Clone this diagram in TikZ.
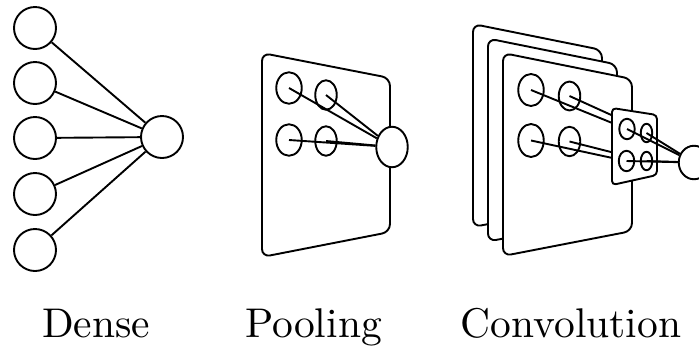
\documentclass[tikz,border=0pt]{standalone}
\usepackage{fontspec}
\setmainfont{lmroman10-regular.otf}
\usetikzlibrary{shapes.geometric}
\tikzset{
  unit/.style={circle,draw,fill=white,minimum size=42pt,inner sep=0pt},
  cell/.style={ellipse,draw,inner sep=0pt},
  sheet/.style={draw,fill=white,rounded corners=8pt},
  kern/.style={draw,fill=white,rounded corners=4pt},
  captxt/.style={anchor=base,inner sep=0pt,font=\fontsize{41.5}{50}\selectfont},
}
\begin{document}
\begin{tikzpicture}[x=1pt,y=-1pt,line width=1.9pt,line join=round]
\useasboundingbox (0,0) rectangle (699,349);

% ---------- Dense ----------
\node[unit] (d1) at (35,28) {};
\node[unit] (d2) at (35,83) {};
\node[unit] (d3) at (35,138) {};
\node[unit] (d4) at (35,194) {};
\node[unit] (d5) at (35,250) {};
\node[unit] (dout) at (162,137) {};
\foreach \i in {1,...,5} \draw (d\i) -- (dout);

% ---------- Pooling ----------
\draw[sheet] (262,53) -- (390,78) -- (390,232) -- (262,257) -- cycle;
\node[cell,minimum width=25.5pt,minimum height=31.5pt] (p1) at (289,88) {};
\node[cell,minimum width=21.5pt,minimum height=29.5pt] (p2) at (326,95) {};
\node[cell,minimum width=25.5pt,minimum height=31.5pt] (p3) at (289,140) {};
\node[cell,minimum width=21.5pt,minimum height=29.5pt] (p4) at (326,141) {};
\node[cell,fill=white,minimum width=31.5pt,minimum height=40.5pt] (pout) at (392,147) {};
\foreach \i in {1,...,4} \draw (p\i.center) -- (pout);

% ---------- Convolution ----------
\draw[sheet,shift={(-30,-29)}] (503,53) -- (632,79) -- (632,231) -- (503,256) -- cycle;
\draw[sheet,shift={(-15,-14.5)}] (503,53) -- (632,79) -- (632,231) -- (503,256) -- cycle;
\draw[sheet] (503,53) -- (632,79) -- (632,231) -- (503,256) -- cycle;
\node[cell,minimum width=25.5pt,minimum height=32pt] (c1) at (531,90) {};
\node[cell,minimum width=21.5pt,minimum height=29pt] (c2) at (569.5,96) {};
\node[cell,minimum width=25.5pt,minimum height=33pt] (c3) at (531,140.5) {};
\node[cell,minimum width=21.5pt,minimum height=29.5pt] (c4) at (569.5,141.5) {};
\coordinate (kc1) at (627,129);
\coordinate (kc2) at (646.5,131);
\coordinate (kc3) at (626.5,161);
\coordinate (kc4) at (646.5,161);
\foreach \i in {1,...,4} \draw (c\i.center) -- (kc\i);
\draw[kern] (612,108) -- (657,115) -- (657,175) -- (612,185) -- cycle;
\node[cell,minimum width=15.5pt,minimum height=20.5pt] (k1) at (627,129) {};
\node[cell,minimum width=11.5pt,minimum height=18.5pt] (k2) at (646.5,133) {};
\node[cell,minimum width=15.5pt,minimum height=20.5pt] (k3) at (626.5,161) {};
\node[cell,minimum width=11.5pt,minimum height=18.5pt] (k4) at (646.5,161) {};
\node[cell,fill=white,minimum width=30.5pt,minimum height=33.5pt] (kout) at (694,162.5) {};
\foreach \i in {1,...,4} \draw (k\i.center) -- (kout);

% ---------- Labels ----------
\node[captxt] (t1) at (96,337) {Dense};
\node[captxt] (t2) at (313.5,337) {Pooling};
\node[captxt] (t3) at (571,337) {Convolution};
\end{tikzpicture}
\end{document}
